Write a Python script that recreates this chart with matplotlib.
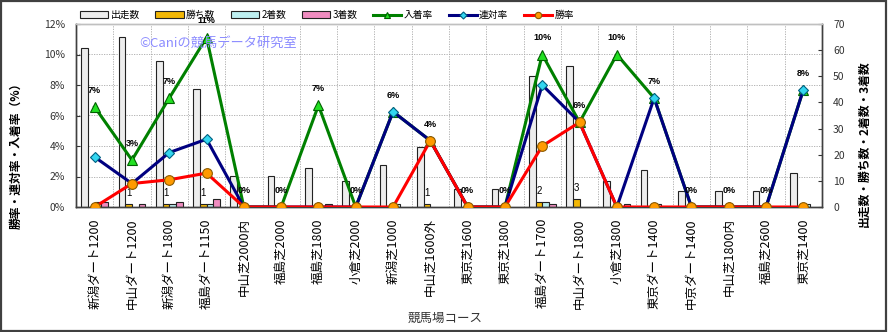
import matplotlib
matplotlib.use("Agg")
import matplotlib.pyplot as plt
import numpy as np
from matplotlib.patches import Rectangle
from matplotlib.ticker import FuncFormatter, MultipleLocator

plt.rcParams['font.family'] = ['Noto Sans CJK JP', 'DejaVu Sans']

# コース別成績
courses = ["新潟ダート1200", "中山ダート1200", "新潟ダート1800", "福島ダート1150",
           "中山芝2000内", "福島芝2000", "福島芝1800", "小倉芝2000", "新潟芝1000",
           "中山芝1600外", "東京芝1600", "東京芝1800", "福島ダート1700", "中山ダート1800",
           "小倉芝1800", "東京ダート1400", "中京ダート1400", "中山芝1800内", "福島芝2600",
           "東京芝1400"]
runs = [61, 65, 56, 45, 12, 12, 15, 10, 16, 23, 7, 7, 50, 54, 10, 14, 6, 6, 6, 13]
wins = [0, 1, 1, 1, 0, 0, 0, 0, 0, 1, 0, 0, 2, 3, 0, 0, 0, 0, 0, 0]
seconds = [2, 0, 1, 1, 0, 0, 0, 0, 1, 0, 0, 0, 2, 0, 0, 1, 0, 0, 0, 1]
thirds = [2, 1, 2, 3, 0, 0, 1, 0, 0, 0, 0, 0, 1, 0, 1, 0, 0, 0, 0, 0]

runs_a = np.array(runs, float)
win_rate = np.array(wins) / runs_a * 100
rentai_rate = (np.array(wins) + np.array(seconds)) / runs_a * 100
place_rate = (np.array(wins) + np.array(seconds) + np.array(thirds)) / runs_a * 100

fig = plt.figure(figsize=(8.89, 3.32), dpi=100)
fig.patch.set_facecolor("white")
ax = fig.add_axes([76 / 889, 1 - 207 / 332, 746 / 889, 183 / 332])
ax2 = ax.twinx()
ax.set_zorder(ax2.get_zorder() + 1)
ax.patch.set_visible(False)
ax2.patch.set_facecolor("#FAEFD9")

x = np.arange(len(courses))
bw = 0.18
bar_specs = [
    (runs, -0.27, "#EDEDED", "出走数"),
    (wins, -0.09, "#F2B705", "勝ち数"),
    (seconds, 0.09, "#BDEFF0", "2着数"),
    (thirds, 0.27, "#F08CC0", "3着数"),
]
handles = []
for vals, off, col, lab in bar_specs:
    lws = [0.8 if v > 0 else 0 for v in vals]
    ax2.bar(x + off, vals, width=bw, color=col, edgecolor="#222222",
            linewidth=lws, zorder=2, label=lab)
    handles.append(Rectangle((0, 0), 1, 1, facecolor=col, edgecolor="#222222", linewidth=0.8))

# grid lines
for v in np.arange(2, 12, 2):
    ax2.axhline(v * 70 / 12, color="#A8A8A8", lw=0.6, ls=(0, (1.5, 1.5)), zorder=0.5)
for xv in np.arange(0.5, len(courses) - 0.5, 1):
    ax2.axvline(xv, color="#A8A8A8", lw=0.6, ls=(0, (1.5, 1.5)), zorder=0.5)

l1, = ax.plot(x, place_rate, color="#008000", lw=2.2, marker="^", ms=7.5,
              mfc="#22E022", mec="#006000", mew=0.8, zorder=3, label="入着率")
l2, = ax.plot(x, rentai_rate, color="#000080", lw=2.2, marker="D", ms=5.5,
              mfc="#33D6F0", mec="#006080", mew=0.8, zorder=4, label="連対率")
l3, = ax.plot(x, win_rate, color="#FF0000", lw=2.2, marker="o", ms=7,
              mfc="#FF9A00", mec="#8A5A00", mew=0.8, zorder=5, label="勝率")

for xi, r in zip(x, place_rate):
    ax.annotate(f"{r:.0f}%", (xi, r), xytext=(0, 12), textcoords="offset points",
                ha="center", va="center", fontsize=6.5, fontweight="bold",
                family="Liberation Sans", color="black", zorder=6)
for xi, w in zip(x, wins):
    if w > 0:
        ax2.annotate(f"{w}", (xi - 0.09, w), xytext=(0, 8), textcoords="offset points",
                     ha="center", va="center", fontsize=7, family="Liberation Sans",
                     color="black", zorder=6)

ax.set_xlim(-0.5, len(courses) - 0.5)
ax.set_ylim(0, 12)
ax2.set_ylim(0, 70)
ax.yaxis.set_major_locator(MultipleLocator(2))
ax.yaxis.set_major_formatter(FuncFormatter(lambda v, p: f"{v:.0f}%"))
ax2.yaxis.set_major_locator(MultipleLocator(10))
ax.set_xticks(x)
ax.set_xticklabels(courses, rotation=90, fontsize=9)
ax.tick_params(axis="x", length=0, pad=8)
ax.tick_params(axis="y", direction="in", length=3, pad=8, labelsize=7.5, colors="#333333")
ax2.tick_params(axis="y", direction="in", length=3, pad=8, labelsize=7.5, colors="#333333")
for a in (ax, ax2):
    for s in a.spines.values():
        s.set_color("#404040")
        s.set_linewidth(1.0)
    a.spines["top"].set_color("#C0C0C0")

fig.text(16 / 889, 1 - 153 / 332, "勝率・連対率・入着率（%）", rotation=90,
         ha="center", va="center", fontsize=8.5, fontweight="bold")
fig.text(864 / 889, 1 - 144 / 332, "出走数・勝ち数・2着数・3着数", rotation=90,
         ha="center", va="center", fontsize=8.5, fontweight="bold")
fig.text(445 / 889, 1 - 318 / 332, "競馬場コース", ha="center", va="center",
         fontsize=9, color="#333333")
fig.text(139 / 889, 1 - 43 / 332, "©Caniの競馬データ研究室", ha="left", va="center",
         fontsize=9.5, color="#8C8CFF", zorder=10)

fig.legend(handles + [l1, l2, l3],
           ["出走数", "勝ち数", "2着数", "3着数", "入着率", "連対率", "勝率"],
           loc="center left", bbox_to_anchor=(80 / 889, 1 - 15 / 332), ncol=7,
           frameon=False, fontsize=7, handlelength=2.9, handletextpad=0.25,
           columnspacing=1.6, borderpad=0, borderaxespad=0, markerscale=0.65)

fig.add_artist(Rectangle((0.001, 0.002), 0.996, 0.995, transform=fig.transFigure,
                         fill=False, edgecolor="#404040", linewidth=1.6))

fig.savefig("out.png", dpi=100)
